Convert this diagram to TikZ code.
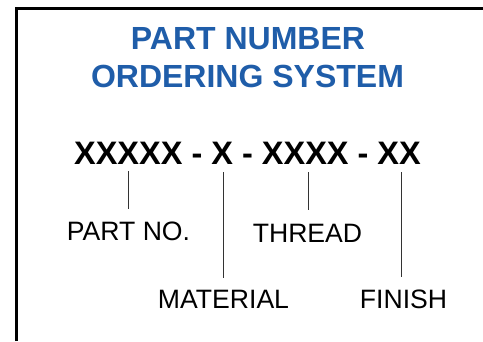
\documentclass[tikz,border=0pt]{standalone}
\usepackage{fontspec}
\setmainfont{Liberation Sans}
\definecolor{titleblue}{HTML}{1F5DA9}
\tikzset{
  every node/.style={inner sep=0pt,outer sep=0pt},
  frameline/.style={line width=2.6pt,draw=black},
  titletext/.style={anchor=base,text=titleblue,font=\fontsize{32}{38}\selectfont\bfseries},
  codetext/.style={anchor=base,text=black,font=\fontsize{32.5}{38}\selectfont\bfseries},
  labeltext/.style={anchor=base,text=black,font=\fontsize{26.6}{30}\selectfont},
  leader/.style={line width=1pt,draw=black!80}
}
\begin{document}
\begin{tikzpicture}[x=1pt,y=-1pt]
\useasboundingbox (0,0) rectangle (483,341);
\coordinate (fa) at (16.5,341);
\coordinate (fb) at (16.5,8.5);
\coordinate (fc) at (483,8.5);
\draw[frameline] (fa) -- (fb) -- (fc);
\node[titletext] (t1) at (248,49) {PART NUMBER};
\node[titletext] (t2) at (247.5,87) {ORDERING SYSTEM};
\node[codetext] (code) at (247.5,164) {XXXXX - X - XXXX - XX};
\node[labeltext] (part) at (128.5,240) {PART NO.};
\node[labeltext] (mat) at (223.5,308) {MATERIAL};
\node[labeltext] (thr) at (307.5,242) {THREAD};
\node[labeltext] (fin) at (403.5,308) {FINISH};
\coordinate (a1) at (128,171); \coordinate (a2) at (128,209);
\coordinate (b1) at (223,172); \coordinate (b2) at (223,278);
\coordinate (c1) at (308,172); \coordinate (c2) at (308,210);
\coordinate (d1) at (401,172); \coordinate (d2) at (401,277);
\draw[leader] (a1) -- (a2);
\draw[leader] (b1) -- (b2);
\draw[leader] (c1) -- (c2);
\draw[leader] (d1) -- (d2);
\end{tikzpicture}
\end{document}
